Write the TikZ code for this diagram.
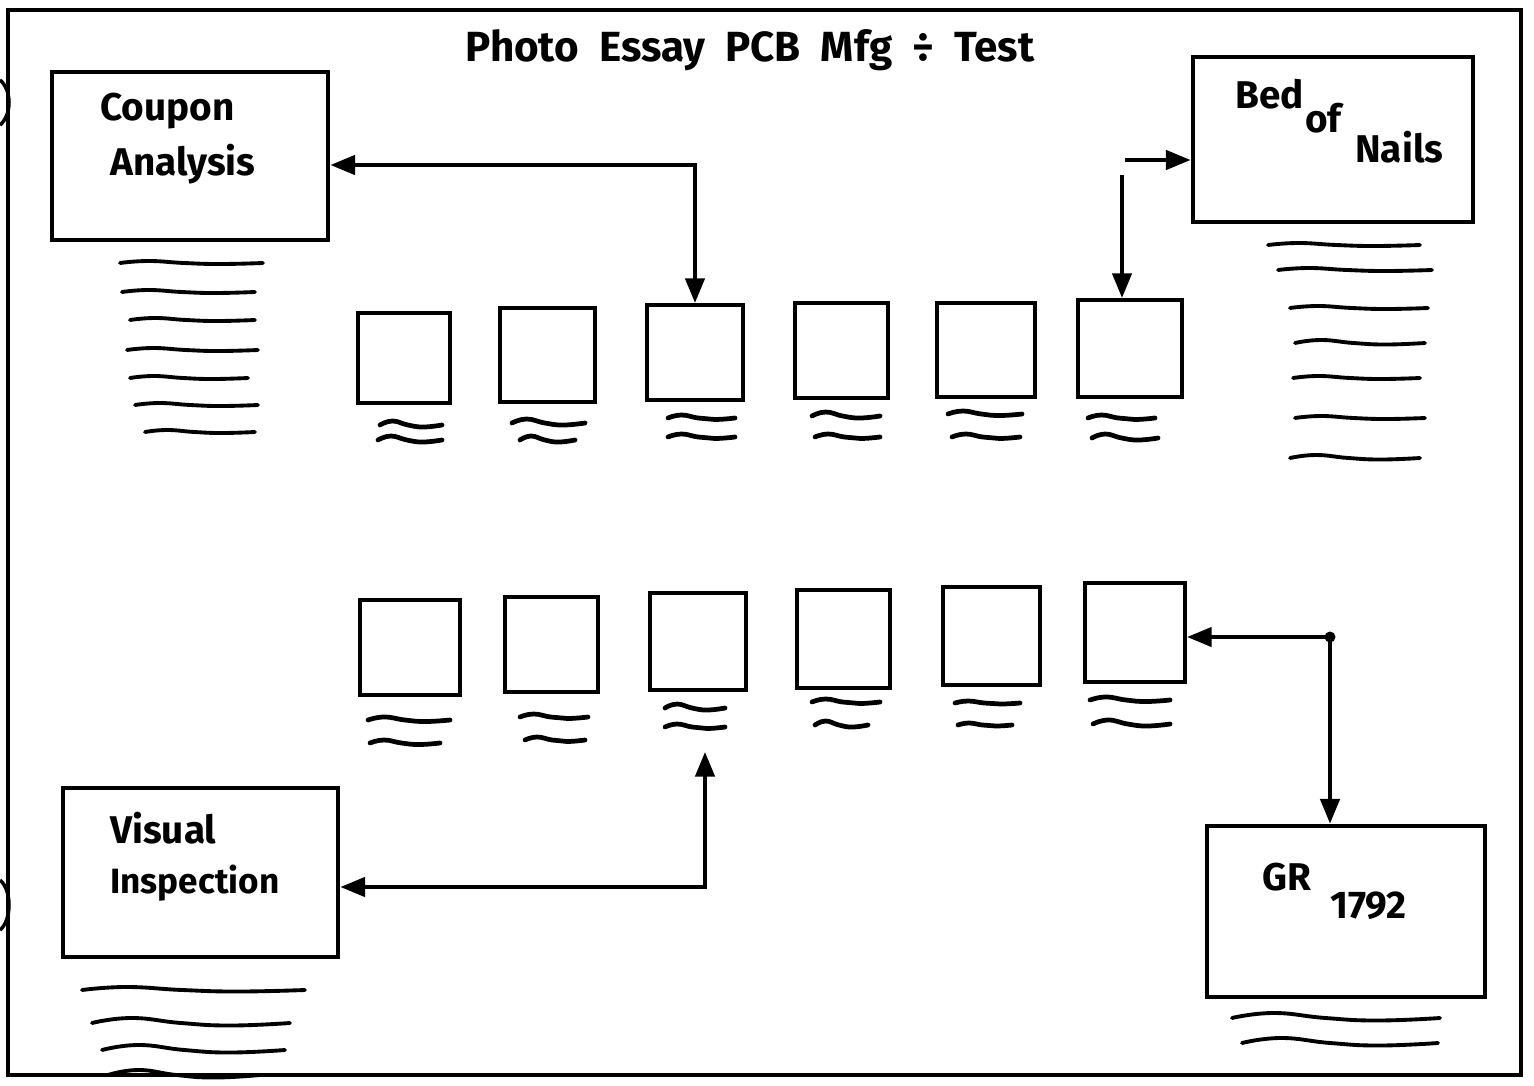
\documentclass[tikz,border=0pt]{standalone}
\usepackage{fontspec}
\setmainfont{Fira Sans}
\usetikzlibrary{arrows.meta}
\newcommand\wv[4][3]{\draw[wave] plot[smooth,tension=0.8] coordinates {(#2,#4) ({#2+0.2*(#3-#2)},{#4-#1}) ({#2+0.45*(#3-#2)},{#4}) ({#2+0.7*(#3-#2)},{#4+0.5*#1}) (#3,#4)};}
\begin{document}
\begin{tikzpicture}[x=0.02cm,y=-0.02cm,
  bigbox/.style={draw, line width=2.8pt, inner sep=0pt},
  smallbox/.style={draw, line width=2.4pt, inner sep=0pt},
  sz/.style 2 args={minimum width=#1*0.02cm, minimum height=#2*0.02cm},
  lbl/.style={font=\fontsize{22}{24}\selectfont\bfseries, inner sep=0pt, anchor=base west},
  tip/.tip={Triangle[length=14pt,width=11pt]},
  conn/.style={line width=2pt, tip-tip},
  conn1/.style={line width=2pt, -tip},
  wave/.style={line width=2.2pt, line cap=round},
  swave/.style={wave, line width=2.7pt}]
\useasboundingbox (0,0) rectangle (1534,1085);
% frame
\draw[line width=2.5pt] (8,10) rectangle (1521,1075);
\draw[line width=2pt] (0,80) .. controls (12,90) and (12,115) .. (0,125);
\draw[line width=2pt] (0,880) .. controls (12,890) and (12,920) .. (0,930);
% title
\node[font=\fontsize{24}{26}\selectfont\bfseries] (title) at (750,50) {Photo \ Essay \ PCB \ Mfg \ ÷ \ Test};
% big boxes
\node[bigbox, sz={276}{168}] (coupon) at (190,156) {};
\node[lbl] (couponA) at (100,120) {Coupon};
\node[lbl] (couponB) at (110,175) {Analysis};
\node[bigbox, sz={280}{165}] (bed) at (1333,139.5) {};
\node[lbl] (bedA) at (1235,108) {Bed};
\node[lbl] (bedB) at (1305,132) {of};
\node[lbl] (bedC) at (1355,162) {Nails};
\node[bigbox, sz={275}{169}] (vis) at (200.5,872.5) {};
\node[lbl] (visA) at (110,843) {Visual};
\node[lbl, font=\fontsize{20}{22}\selectfont\bfseries] (visB) at (110,893) {Inspection};
\node[bigbox, sz={278}{171}] (gr) at (1346,911.5) {};
\node[lbl] (grA) at (1262,890) {GR};
\node[lbl] (grB) at (1330,918) {1792};
% top row
\node[smallbox, sz={92}{90}] (t1) at (404,358) {};
\node[smallbox, sz={95}{94}] (t2) at (547.5,355) {};
\node[smallbox, sz={96}{95}] (t3) at (695,352.5) {};
\node[smallbox, sz={93}{95}] (t4) at (841.5,350.5) {};
\node[smallbox, sz={98}{94}] (t5) at (986,350) {};
\node[smallbox, sz={104}{97}] (t6) at (1130,348.5) {};
% bottom row
\node[smallbox, sz={100}{95}] (b1) at (410,647.5) {};
\node[smallbox, sz={93}{95}] (b2) at (551.5,644.5) {};
\node[smallbox, sz={96}{97}] (b3) at (698,641.5) {};
\node[smallbox, sz={93}{98}] (b4) at (843.5,639) {};
\node[smallbox, sz={97}{98}] (b5) at (991.5,636) {};
\node[smallbox, sz={100}{99}] (b6) at (1135,632.5) {};
% text lines under big boxes
\wv[2]{120}{263}{263} \wv[2]{122}{255}{292} \wv[2]{130}{255}{320}
\wv[2]{127}{258}{350} \wv[2]{130}{248}{378} \wv[2]{135}{258}{405}
\wv[2]{145}{255}{432}
\wv[2]{1268}{1420}{245} \wv[2]{1278}{1432}{270} \wv[2]{1290}{1428}{308}
\wv[3]{1295}{1425}{343} \wv[2]{1293}{1420}{378} \wv[2]{1295}{1425}{418}
\wv[3]{1290}{1420}{458}
\wv[3]{82}{305}{990} \wv[5]{92}{290}{1023} \wv[5]{102}{285}{1050} \wv[5]{108}{260}{1075}
\wv[5]{1232}{1440}{1018} \wv[5]{1242}{1438}{1043}
% lines under small boxes
\tikzset{wave/.style={line width=2.7pt, line cap=round}}
\wv[4]{380}{442}{425} \wv[4]{378}{442}{440}
\wv[4]{512}{585}{423} \wv[4]{520}{575}{440}
\wv[3]{668}{735}{418} \wv[3]{668}{735}{437}
\wv[4]{812}{880}{416} \wv[3]{815}{880}{437}
\wv[3]{948}{1022}{414} \wv[3]{952}{1020}{437}
\wv[3]{1088}{1155}{418} \wv[4]{1092}{1158}{438}
\wv[3]{368}{450}{720} \wv[3]{370}{440}{743}
\wv[3]{520}{588}{717} \wv[3]{525}{585}{740}
\wv[4]{665}{725}{708} \wv[3]{665}{725}{727}
\wv[3]{812}{880}{702} \wv[4]{815}{868}{725}
\wv[2]{955}{1020}{703} \wv[2]{958}{1012}{725}
\wv[3]{1090}{1170}{700} \wv[4]{1093}{1170}{724}
% connectors
\coordinate (c1) at (695,165);
\draw[conn] (coupon.east |- c1) -| (t3.north);
\coordinate (n1) at (1125,160);
\draw[conn1] (n1) -- (bed.west |- n1);
\coordinate (n2) at (1122,175);
\draw[conn1] (n2) -- (n2 |- t6.north);
\coordinate (g1) at (1330,637);
\draw[conn] (b6.east |- g1) -- (g1) -- (g1 |- gr.north);
\fill (g1) circle (5.5);
\coordinate (v1) at (705,887);
\coordinate (v2) at (705,752);
\draw[conn] (vis.east |- v1) -- (v1) -- (v2);
\end{tikzpicture}
\end{document}
